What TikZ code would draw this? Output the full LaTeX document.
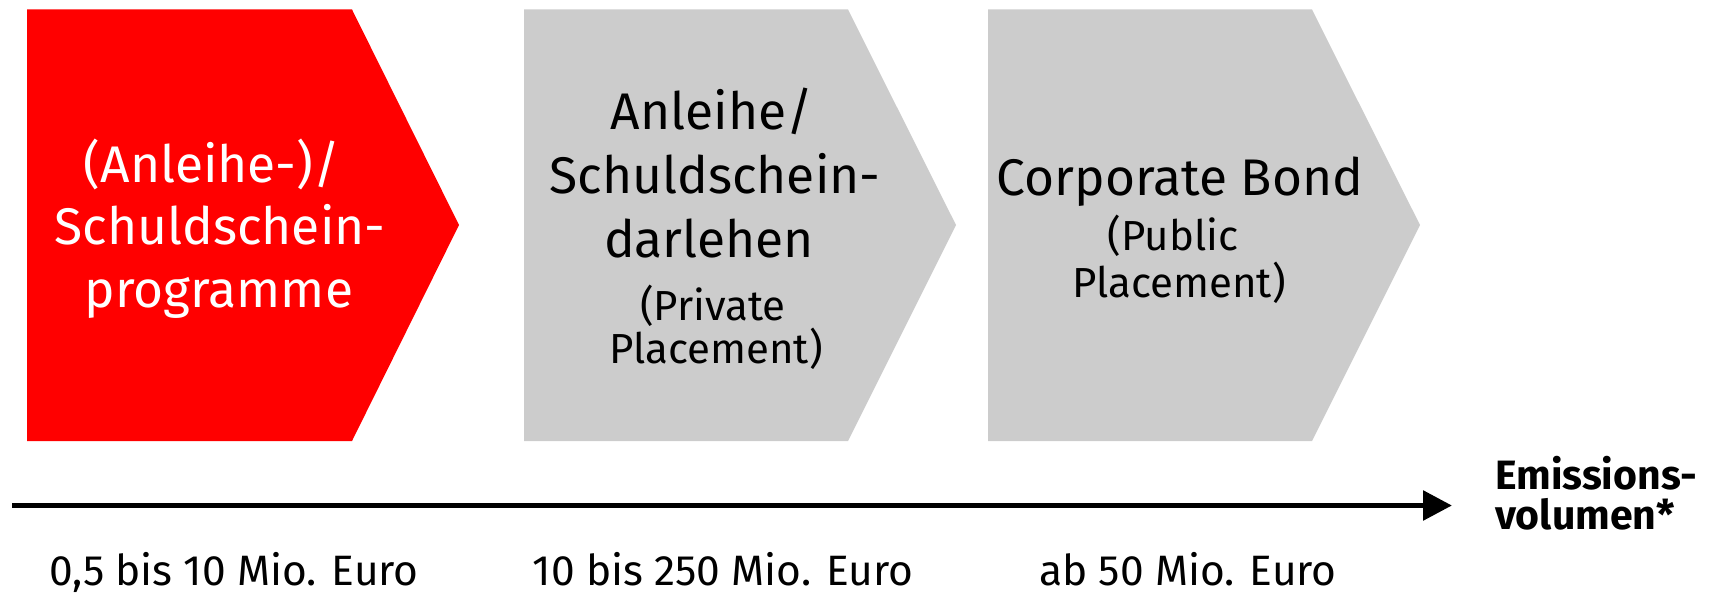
\documentclass[tikz,border=0pt]{standalone}
\usepackage{fontspec}
\setmainfont{Fira Sans}
\usetikzlibrary{arrows.meta}
\definecolor{spkred}{HTML}{FF0000}
\definecolor{panelgray}{HTML}{CCCCCC}
\begin{document}
\begin{tikzpicture}[x=1pt,y=-1pt,
  bigtext/.style={inner sep=0pt, anchor=base, font=\fontsize{51.5}{60}\selectfont},
  smalltext/.style={inner sep=0pt, anchor=base, font=\fontsize{42}{50}\selectfont},
  axistext/.style={inner sep=0pt, anchor=base, font=\fontsize{42.5}{50}\selectfont},
  axislabel/.style={inner sep=0pt, anchor=base west, font=\bfseries\fontsize{41}{48}\selectfont},
  redpanel/.style={fill=spkred, draw=none},
  graypanel/.style={fill=panelgray, draw=none},
  axisline/.style={line width=5.7pt, -{Triangle[length=29pt,width=29pt]}}]
\useasboundingbox (0,0) rectangle (1718,594);
% panels
\fill[redpanel] (27,9.5) -- (352,9.5) -- (459,225) -- (352,441) -- (27,441) -- cycle;
\fill[graypanel] (524,9.5) -- (848,9.5) -- (956,225) -- (848,441) -- (524,441) -- cycle;
\fill[graypanel] (988,9.5) -- (1312,9.5) -- (1420,225) -- (1312,441) -- (988,441) -- cycle;
% red panel text
\node[bigtext, text=white] (r1) at (212,182) {(Anleihe-)/};
\node[bigtext, text=white] (r2) at (220,244) {Schuldschein-};
\node[bigtext, text=white] (r3) at (219,307) {programme};
% gray panel 1 text
\node[bigtext] (g1) at (712,129) {Anleihe/};
\node[bigtext] (g2) at (715,193) {Schuldschein-};
\node[bigtext] (g3) at (709,257) {darlehen};
\node[smalltext] (g4) at (713,320) {(Private};
\node[smalltext] (g5) at (716,363) {Placement)};
% gray panel 2 text
\node[bigtext] (c1) at (1180,195) {Corporate Bond};
\node[smalltext] (c2) at (1173,250) {(Public};
\node[smalltext] (c3) at (1179,297) {Placement)};
% axis
\coordinate (axstart) at (12,505.5);
\coordinate (axend) at (1452,505.5);
\draw[axisline] (axstart) -- (axend);
\node[axislabel] (ax1) at (1495,489) {Emissions-};
\node[axislabel] (ax2) at (1495,529) {volumen*};
% ranges
\node[axistext] (v1) at (234,585) {0,5 bis 10 Mio. Euro};
\node[axistext] (v2) at (723,585) {10 bis 250 Mio. Euro};
\node[axistext] (v3) at (1188,585) {ab 50 Mio. Euro};
\end{tikzpicture}
\end{document}
